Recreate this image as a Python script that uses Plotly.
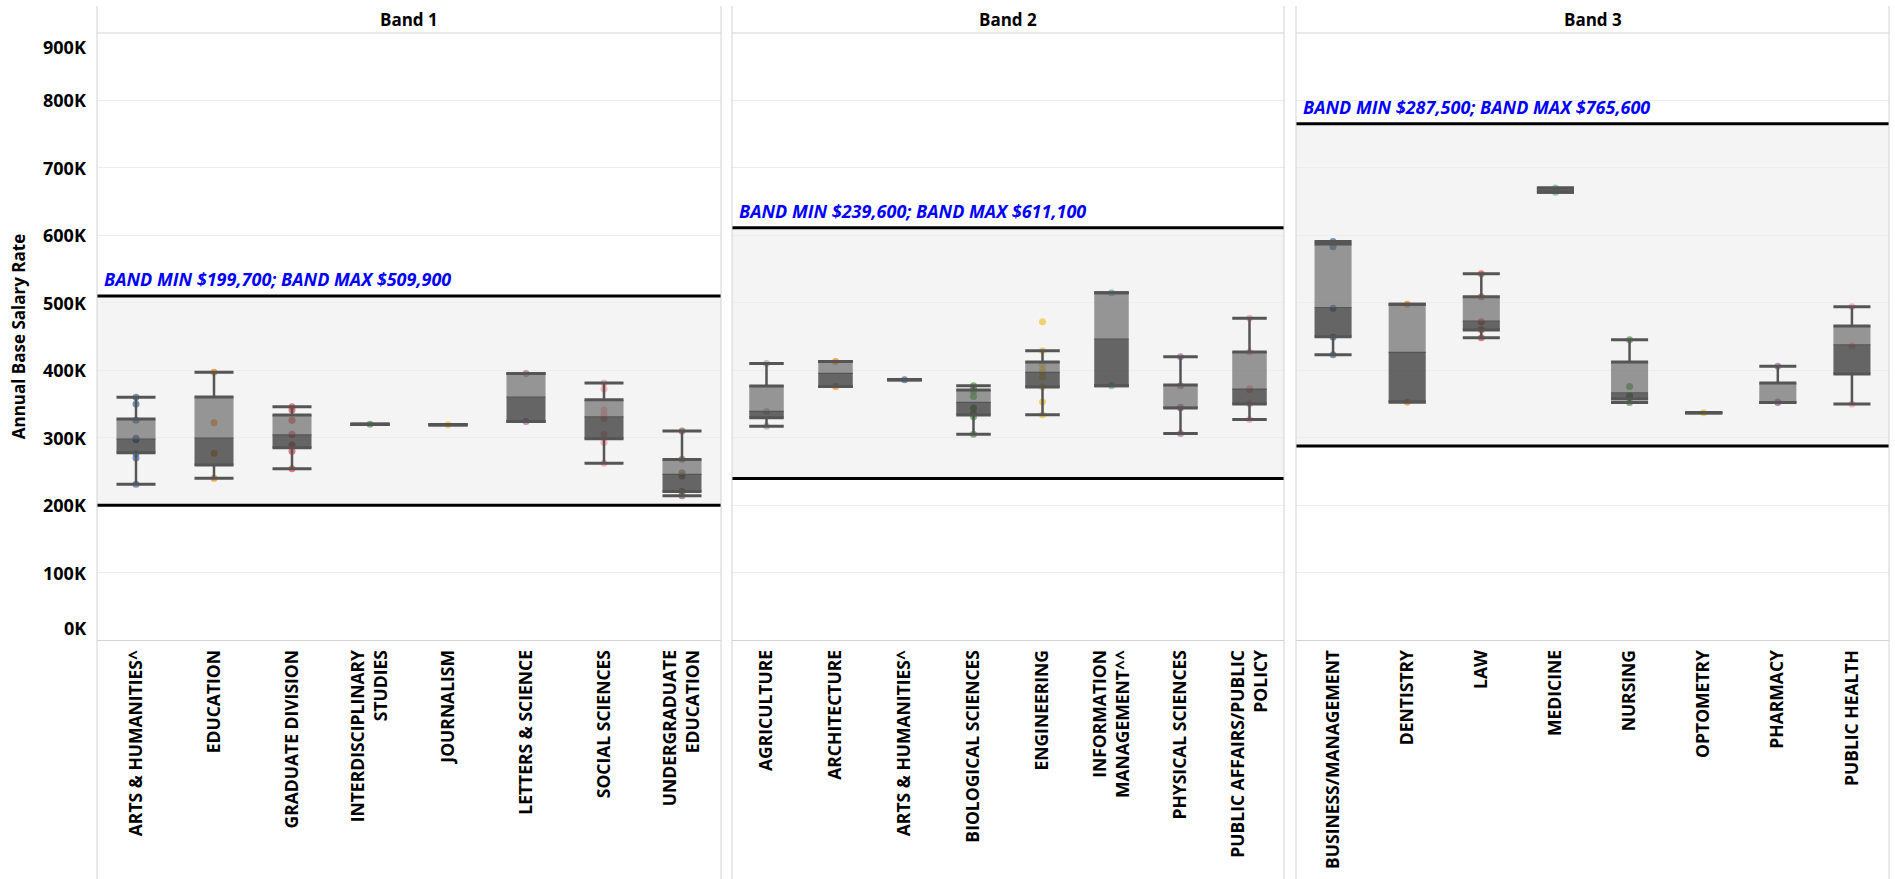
import plotly.graph_objects as go

W, H = 1895, 879
K = 1000

# ---- data -------------------------------------------------------------
BANDS = ["Band 1", "Band 2", "Band 3"]
BAND_MIN = [199700, 239600, 287500]
BAND_MAX = [509900, 611100, 765600]

CATS_1 = ["ARTS & HUMANITIES^", "EDUCATION", "GRADUATE DIVISION",
          "INTERDISCIPLINARY<br>STUDIES", "JOURNALISM", "LETTERS & SCIENCE",
          "SOCIAL SCIENCES", "UNDERGRADUATE<br>EDUCATION"]
CATS_2 = ["AGRICULTURE", "ARCHITECTURE", "ARTS & HUMANITIES^",
          "BIOLOGICAL SCIENCES", "ENGINEERING", "INFORMATION<br>MANAGEMENT^^",
          "PHYSICAL SCIENCES", "PUBLIC AFFAIRS/PUBLIC<br>POLICY"]
CATS_3 = ["BUSINESS/MANAGEMENT", "DENTISTRY", "LAW", "MEDICINE", "NURSING",
          "OPTOMETRY", "PHARMACY", "PUBLIC HEALTH"]

# individual salaries, $K
PTS_1 = [[231, 270, 276, 297, 298, 299, 326, 350, 360],
         [240, 277, 322, 397],
         [254, 280, 289, 305, 326, 341, 346],
         [320],
         [319],
         [324, 395],
         [262, 293, 305, 328, 334, 341, 372, 381],
         [214, 220, 243, 248, 268, 310]]
PTS_2 = [[317, 339, 410],
         [376, 413],
         [386],
         [305, 331, 336, 344, 361, 369, 372, 377],
         [334, 353, 375, 390, 397, 400, 408, 429, 472],
         [377, 515],
         [306, 344, 345, 377, 420],
         [327, 350, 371, 373, 427, 477]]
PTS_3 = [[423, 449, 492, 583, 591],
         [353, 498],
         [448, 460, 472, 509, 543],
         [664, 667, 670],
         [352, 362, 376, 445],
         [337],
         [352, 353, 406],
         [350, 436, 494]]

# box-plot statistics, $K: lower whisker, Q1, median, Q3, upper whisker
LO_1 = [231, 240, 254, 320, 319, 324, 262, 214]
Q1_1 = [277.7, 259.4, 285, 320, 319, 324, 298.5, 220]
MED_1 = [298, 299.5, 304, 320, 319, 360, 331, 245.6]
Q3_1 = [327.6, 360.3, 333.6, 320, 319, 395, 356.3, 267.5]
HI_1 = [360, 397, 346, 320, 319, 395, 381, 310]

LO_2 = [317, 376, 386, 305, 334, 377, 306, 327]
Q1_2 = [329.6, 376, 386, 333.6, 375.1, 377, 344, 350]
MED_2 = [339, 395.4, 386, 352.4, 396.9, 446.3, 345, 372]
Q3_2 = [376.6, 413, 386, 370.6, 412.2, 515, 378, 427]
HI_2 = [410, 413, 386, 377, 429, 515, 420, 477]

LO_3 = [423, 353, 448, 664, 352, 337, 352, 350]
Q1_3 = [449.7, 353, 459.6, 664, 357.3, 337, 352, 394.4]
MED_3 = [493, 426.5, 473, 667, 366.6, 337, 353, 437.8]
Q3_3 = [587, 498, 509, 670, 412.2, 337, 381, 465.5]
HI_3 = [591, 498, 543, 670, 445, 337, 406, 494]

COL_1 = ["#4e79a7", "#f28e2b", "#e15759", "#59a14f", "#edc948", "#b07aa1", "#ff9da7", "#9c755f"]
COL_2 = ["#bab0ac", "#f28e2b", "#4e79a7", "#59a14f", "#edc948", "#76b7b2", "#b07aa1", "#ff9da7"]
COL_3 = ["#4e79a7", "#f28e2b", "#e15759", "#76b7b2", "#59a14f", "#edc948", "#b07aa1", "#ff9da7"]

Y_TICKS = [0, 100000, 200000, 300000, 400000, 500000, 600000, 700000, 800000, 900000]
Y_TICK_TEXT = ["0K", "100K", "200K", "300K", "400K", "500K", "600K", "700K", "800K", "900K"]

PANELS = [
    (CATS_1, PTS_1, LO_1, Q1_1, MED_1, Q3_1, HI_1, COL_1),
    (CATS_2, PTS_2, LO_2, Q1_2, MED_2, Q3_2, HI_2, COL_2),
    (CATS_3, PTS_3, LO_3, Q1_3, MED_3, Q3_3, HI_3, COL_3),
]

# ---- layout geometry (pixels) ---------------------------------------------
X_DOM = [(97, 721), (732, 1284), (1296, 1889)]
PLOT_TOP, PLOT_BOTTOM, FRAME_TOP = 33, 640, 6
HW = 0.25  # half box width in category units

FONT = "Open Sans"
LINE = "#555555"
FRAME = "#d3d3d3"

fig = go.Figure()


def seg(xs, ys, x0, x1, y0, y1):
    xs += [x0, x1, None]
    ys += [y0, y1, None]


for p, (cats, pts, lo, q1, med, q3, hi, cols) in enumerate(PANELS):
    xa = "x" if p == 0 else f"x{p + 1}"
    ya = "y" if p == 0 else f"y{p + 1}"

    # individual circles
    px, py, pc = [], [], []
    for i, vals in enumerate(pts):
        for v in vals:
            px.append(i)
            py.append(v * K)
            pc.append(cols[i])
    fig.add_trace(go.Scatter(x=px, y=py, mode="markers", xaxis=xa, yaxis=ya,
                             marker=dict(size=7, color=pc, opacity=0.78, line=dict(width=0)),
                             hoverinfo="skip", showlegend=False))

    # box halves (semi-transparent, drawn over the circles)
    lx, ly, ux, uy = [], [], [], []
    for i in range(len(cats)):
        a, b = i - HW, i + HW
        lx += [a, b, b, a, a, None]
        ly += [q1[i] * K, q1[i] * K, med[i] * K, med[i] * K, q1[i] * K, None]
        ux += [a, b, b, a, a, None]
        uy += [med[i] * K, med[i] * K, q3[i] * K, q3[i] * K, med[i] * K, None]
    fig.add_trace(go.Scatter(x=lx, y=ly, mode="lines", fill="toself", xaxis=xa, yaxis=ya,
                             fillcolor="rgba(55,55,55,0.76)", line=dict(width=0),
                             hoverinfo="skip", showlegend=False))
    fig.add_trace(go.Scatter(x=ux, y=uy, mode="lines", fill="toself", xaxis=xa, yaxis=ya,
                             fillcolor="rgba(95,95,95,0.64)", line=dict(width=0),
                             hoverinfo="skip", showlegend=False))

    # median, whiskers, box edges and caps
    mx, my, wx, wy, ex, ey = [], [], [], [], [], []
    for i in range(len(cats)):
        a, b = i - HW, i + HW
        seg(mx, my, a, b, med[i] * K, med[i] * K)
        if hi[i] > q3[i]:
            seg(wx, wy, i, i, q3[i] * K, hi[i] * K)
        if lo[i] < q1[i]:
            seg(wx, wy, i, i, q1[i] * K, lo[i] * K)
        seg(ex, ey, a, b, q1[i] * K, q1[i] * K)
        seg(ex, ey, a, b, q3[i] * K, q3[i] * K)
        seg(ex, ey, a, b, hi[i] * K, hi[i] * K)
        seg(ex, ey, a, b, lo[i] * K, lo[i] * K)
    fig.add_trace(go.Scatter(x=mx, y=my, mode="lines", xaxis=xa, yaxis=ya,
                             line=dict(color=LINE, width=1.2),
                             hoverinfo="skip", showlegend=False))
    fig.add_trace(go.Scatter(x=wx, y=wy, mode="lines", xaxis=xa, yaxis=ya,
                             line=dict(color=LINE, width=2.5),
                             hoverinfo="skip", showlegend=False))
    fig.add_trace(go.Scatter(x=ex, y=ey, mode="lines", xaxis=xa, yaxis=ya,
                             line=dict(color=LINE, width=3),
                             hoverinfo="skip", showlegend=False))

    # axes
    x0, x1 = X_DOM[p]
    fig.update_layout({
        ("xaxis" if p == 0 else f"xaxis{p + 1}"): dict(
            domain=[x0 / W, x1 / W], anchor=ya, range=[-0.5, len(cats) - 0.5],
            tickmode="array", tickvals=list(range(len(cats))), ticktext=cats,
            tickangle=-90, ticks="", ticklabelstandoff=2, automargin=False,
            tickfont=dict(family=FONT, size=17.5, color="#000", weight="bold"),
            showgrid=False, zeroline=False, showline=True, linecolor=FRAME,
            linewidth=1, fixedrange=True),
        ("yaxis" if p == 0 else f"yaxis{p + 1}"): dict(
            domain=[(H - PLOT_BOTTOM) / H, (H - PLOT_TOP) / H], anchor=xa,
            range=[0, 900000], tickmode="array", tickvals=Y_TICKS,
            showticklabels=False, ticks="", automargin=False,
            showgrid=True, gridcolor="#ededed", gridwidth=1,
            zeroline=False, showline=False, fixedrange=True,
            **({"title": dict(text="Annual Base Salary Rate", standoff=66,
                              font=dict(family=FONT, size=17, color="#000", weight="bold"))}
               if p == 0 else {})),
    })

    dref = f"{xa} domain"
    # salary band shading and limits
    fig.add_shape(type="rect", xref=dref, yref=ya, x0=0, x1=1,
                  y0=BAND_MIN[p], y1=BAND_MAX[p], fillcolor="#f4f4f4",
                  line=dict(width=0), layer="below")
    for v in (BAND_MIN[p], BAND_MAX[p]):
        fig.add_shape(type="line", xref=dref, yref=ya, x0=0, x1=1, y0=v, y1=v,
                      line=dict(color="#000", width=3), layer="above")

    # panel frame
    for xe in (0, 1):
        fig.add_shape(type="line", xref=dref, yref="paper", x0=xe, x1=xe,
                      y0=0, y1=(H - FRAME_TOP) / H, line=dict(color=FRAME, width=1))
    fig.add_shape(type="line", xref=dref, yref="paper", x0=0, x1=1,
                  y0=(H - PLOT_TOP) / H, y1=(H - PLOT_TOP) / H,
                  line=dict(color=FRAME, width=1))

    # header and band label
    fig.add_annotation(text=BANDS[p], xref=dref, yref="paper", x=0.5,
                       y=(H - 20) / H, showarrow=False, yanchor="middle",
                       font=dict(family=FONT, size=17, color="#000", weight="bold"))
    fig.add_annotation(text=f"BAND MIN ${BAND_MIN[p]:,}; BAND MAX ${BAND_MAX[p]:,}",
                       xref=dref, yref=ya, x=0, y=BAND_MAX[p], xanchor="left",
                       yanchor="bottom", xshift=5, yshift=3, showarrow=False,
                       font=dict(family=FONT, size=18, color="#0000ff",
                                 weight="bold", style="italic"))

# value labels on the shared salary axis; the end labels are nudged inside
for v, t in zip(Y_TICKS, Y_TICK_TEXT):
    shift = -14 if v == Y_TICKS[-1] else (12 if v == Y_TICKS[0] else 0)
    fig.add_annotation(text=t, xref="x domain", yref="y", x=0, y=v,
                       xanchor="right", yanchor="middle", xshift=-9, yshift=shift,
                       showarrow=False,
                       font=dict(family=FONT, size=18, color="#000", weight="bold"))

fig.update_layout(template="none", width=W, height=H,
                  margin=dict(l=0, r=0, t=0, b=0, autoexpand=False),
                  paper_bgcolor="#fff", plot_bgcolor="#fff", showlegend=False,
                  font=dict(family=FONT))

fig.write_html("out.html")
